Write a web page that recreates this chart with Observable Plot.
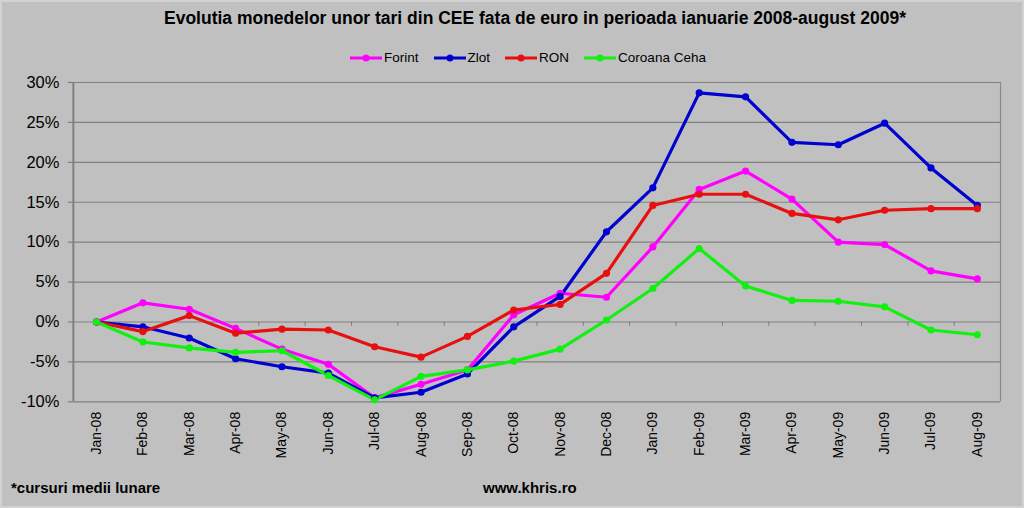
<!DOCTYPE html>
<html>
<head>
<meta charset="utf-8">
<script src="https://cdn.jsdelivr.net/npm/d3@7"></script>
<script src="https://cdn.jsdelivr.net/npm/@observablehq/plot@0.6"></script>
<style>
  html, body { margin: 0; padding: 0; background: #c0c0c0; }
  #wrap { position: relative; width: 1020px; height: 504px; background: #c0c0c0; border: 2px solid #d2d2d2; overflow: hidden; font-family: "Liberation Sans", Arial, sans-serif; }
  #title { position: absolute; left: 0; top: 6px; width: 1066px; text-align: center; font-weight: bold; font-size: 17.5px; color: #000; }
  #legend { position: absolute; left: 0; top: 48px; width: 1052px; display: flex; justify-content: center; gap: 15px; font-size: 13.5px; color: #000; }
  .item { display: flex; align-items: center; gap: 2px; }
  #chart { position: absolute; left: -2px; top: 68px; }
  .foot { position: absolute; top: 477px; font-weight: bold; font-size: 15px; color: #000; }
</style>
</head>
<body>
<div id="wrap">
  <div id="title">Evolutia monedelor unor tari din CEE fata de euro in perioada ianuarie 2008-august 2009*</div>
  <div id="legend"></div>
  <div id="chart"></div>
  <div class="foot" style="left:9px">*cursuri medii lunare</div>
  <div class="foot" style="left:481px">www.khris.ro</div>
</div>
<script>
const months = ["Jan-08","Feb-08","Mar-08","Apr-08","May-08","Jun-08","Jul-08","Aug-08","Sep-08","Oct-08","Nov-08","Dec-08",
                "Jan-09","Feb-09","Mar-09","Apr-09","May-09","Jun-09","Jul-09","Aug-09"];
const seriesNames = ["Forint","Zlot","RON","Coroana Ceha"];
const seriesColors = ["#ff00ff","#0000d0","#e80f0f","#11f011"];
const forint = [0, 2.4, 1.6, -0.8, -3.4, -5.3, -9.5, -7.8, -6.0, 0.9, 3.6, 3.1, 9.4, 16.6, 18.9, 15.4, 10.0, 9.7, 6.4, 5.4];
const zlot   = [0, -0.6, -2.0, -4.6, -5.6, -6.4, -9.5, -8.8, -6.5, -0.6, 3.2, 11.3, 16.8, 28.7, 28.2, 22.5, 22.2, 24.9, 19.3, 14.6];
const ron    = [0, -1.2, 0.8, -1.4, -0.9, -1.0, -3.1, -4.4, -1.8, 1.5, 2.2, 6.1, 14.6, 16.0, 16.0, 13.6, 12.8, 14.0, 14.2, 14.2];
const koruna = [0, -2.5, -3.25, -3.8, -3.6, -6.7, -9.75, -6.8, -6.0, -4.9, -3.4, 0.25, 4.2, 9.2, 4.5, 2.7, 2.6, 1.9, -1.0, -1.6];
const yTicks = [-10, -5, 0, 5, 10, 15, 20, 25, 30];

const allSeries = [forint, zlot, ron, koruna];
const data = allSeries.flatMap((vals, s) => vals.map((v, i) => ({series: seriesNames[s], i, v})));
const boundaries = months.slice(0, -1).map((m, i) => i + 0.5);

// legend
const legend = document.getElementById("legend");
seriesNames.forEach((n, k) => {
  const c = seriesColors[k];
  const it = document.createElement("div");
  it.className = "item";
  it.innerHTML = `<svg width="32" height="10"><line x1="0" y1="5" x2="32" y2="5" stroke="${c}" stroke-width="3"/><circle cx="16" cy="5" r="3.5" fill="${c}"/></svg><span>${n}</span>`;
  legend.appendChild(it);
});

const chart = Plot.plot({
  width: 1024,
  height: 400,
  marginTop: 12,
  marginBottom: 68,
  marginLeft: 73,
  marginRight: 22,
  style: {background: "transparent", fontFamily: "Liberation Sans, Arial, sans-serif", color: "#000"},
  x: {type: "linear", domain: [-0.5, months.length - 0.5], axis: null},
  y: {domain: [-10, 30], axis: null},
  color: {domain: seriesNames, range: seriesColors},
  marks: [
    Plot.ruleY(yTicks, {stroke: "#808080", strokeWidth: 1.2}),
    Plot.ruleY(yTicks, {x1: -0.5, x2: -0.61, stroke: "#808080", strokeWidth: 1.2}),
    Plot.ruleX([-0.5], {stroke: "#808080", strokeWidth: 2}),
    Plot.ruleX([months.length - 0.5], {stroke: "#8a8a8a", strokeWidth: 1.2}),
    Plot.ruleX(boundaries, {y1: 0, y2: -0.55, stroke: "#808080"}),
    Plot.text(yTicks, {x: -0.5, y: d => d, text: d => d + "%", textAnchor: "end", dx: -14, fontSize: 16.5}),
    Plot.text(months, {x: (d, i) => i, y: () => -10, text: d => d, rotate: -90, textAnchor: "end", dy: 10, fontSize: 14}),
    Plot.line(data, {x: "i", y: "v", z: "series", stroke: "series", strokeWidth: 3.2}),
    Plot.dot(data, {x: "i", y: "v", fill: "series", r: 3.6})
  ]
});
document.getElementById("chart").appendChild(chart);
</script>
</body>
</html>
